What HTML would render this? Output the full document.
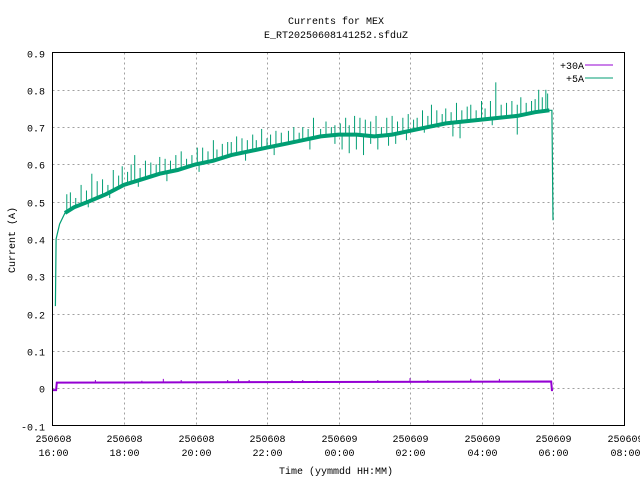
<!DOCTYPE html>
<html><head><meta charset="utf-8"><style>
body{margin:0;background:#fff}
svg text{font-family:"Liberation Mono",monospace;font-size:10px;fill:#000}
</style></head><body>
<svg id="chart" width="640" height="480" viewBox="0 0 640 480" xmlns="http://www.w3.org/2000/svg">
<rect width="640" height="480" fill="#fff"/>
<text x="336" y="24" text-anchor="middle">Currents for MEX</text>
<text x="336" y="38" text-anchor="middle">E_RT20250608141252.sfduZ</text>
<text transform="translate(15,240) rotate(-90)" text-anchor="middle">Current (A)</text>
<text x="336" y="474" text-anchor="middle">Time (yymmdd HH:MM)</text>
<g id="grid"></g>
<g id="series"></g>
<rect x="52.5" y="52.5" width="572" height="373" fill="none" stroke="#000" stroke-width="1"/>
<g>
<text x="584" y="69" text-anchor="end">+30A</text>
<line x1="585" y1="65" x2="613" y2="65" stroke="#9400d3" stroke-width="1"/>
<text x="584" y="82" text-anchor="end">+5A</text>
<line x1="585" y1="78" x2="613" y2="78" stroke="#009e73" stroke-width="1"/>
</g>
</svg>
<script>
const yTicks=[-0.1,0,0.1,0.2,0.3,0.4,0.5,0.6,0.7,0.8,0.9];
const yTickLabels=["-0.1","0","0.1","0.2","0.3","0.4","0.5","0.6","0.7","0.8","0.9"];
const xTicks=[0,2,4,6,8,10,12,14,16];
const xDateLabels=["250608","250608","250608","250608","250609","250609","250609","250609","250609"];
const xTimeLabels=["16:00","18:00","20:00","22:00","00:00","02:00","04:00","06:00","08:00"];
// hours since 250608 16:00
const greenT=[0.08,0.1,0.2,0.35,0.6,1,1.5,2,2.5,3,3.5,4,4.5,5,5.5,6,6.5,7,7.5,8,8.5,9,9.5,10,10.5,11,11.5,12,12.5,13,13.5,13.9,13.97,14.0];
const greenV=[0.22,0.40,0.44,0.47,0.485,0.50,0.52,0.545,0.56,0.575,0.585,0.60,0.61,0.625,0.635,0.645,0.655,0.665,0.675,0.68,0.68,0.675,0.68,0.69,0.70,0.71,0.715,0.72,0.725,0.73,0.74,0.745,0.745,0.45];
const spikeT=[0.4,0.5,0.65,0.8,0.95,1.1,1.25,1.4,1.55,1.7,1.85,1.95,2.1,2.2,2.3,2.45,2.6,2.75,2.9,3.0,3.15,3.3,3.45,3.6,3.75,3.9,4.05,4.2,4.35,4.5,4.6,4.75,4.9,5.0,5.15,5.3,5.45,5.6,5.7,5.85,6.0,6.1,6.25,6.4,6.6,6.75,6.9,7.0,7.15,7.3,7.5,7.65,7.8,7.9,8.05,8.2,8.3,8.45,8.6,8.75,8.9,9.05,9.2,9.35,9.5,9.65,9.8,9.95,10.1,10.2,10.35,10.5,10.6,10.75,10.9,11.0,11.15,11.3,11.45,11.6,11.7,11.85,12.0,12.1,12.25,12.4,12.55,12.7,12.85,13.0,13.1,13.25,13.4,13.5,13.6,13.7,13.8,13.85];
const spikeV=[0.52,0.525,0.51,0.545,0.53,0.575,0.555,0.56,0.545,0.585,0.57,0.595,0.58,0.6,0.625,0.59,0.61,0.605,0.6,0.62,0.615,0.61,0.625,0.635,0.615,0.625,0.645,0.645,0.635,0.665,0.64,0.655,0.66,0.66,0.675,0.67,0.665,0.68,0.665,0.695,0.67,0.68,0.69,0.685,0.69,0.7,0.685,0.70,0.695,0.725,0.695,0.715,0.70,0.705,0.71,0.725,0.705,0.73,0.725,0.72,0.715,0.73,0.70,0.725,0.73,0.715,0.725,0.735,0.72,0.725,0.745,0.73,0.76,0.745,0.735,0.75,0.74,0.765,0.745,0.755,0.76,0.745,0.77,0.75,0.77,0.82,0.76,0.765,0.77,0.76,0.78,0.765,0.77,0.775,0.80,0.78,0.80,0.79];
const dipT=[1.0,1.6,2.4,3.2,4.1,5.4,6.2,7.2,7.9,8.1,8.3,8.5,8.7,8.9,9.1,9.4,9.6,9.9,10.4,11.2,11.4,12.3,13.0];
const dipV=[0.485,0.51,0.54,0.555,0.58,0.61,0.625,0.64,0.655,0.64,0.63,0.64,0.625,0.655,0.64,0.65,0.655,0.665,0.685,0.675,0.67,0.705,0.68];
const purpleT=[0,0.1,0.12,13.95,13.97,14.0];
const purpleV=[-0.005,-0.005,0.015,0.018,-0.005,-0.005];
const purpleSpikeT=[1.2,2.5,3.1,3.6,4.9,5.2,5.5,6.7,7.0,7.4,9.1,10.0,10.5,11.7,12.5];
const purpleSpikeV=[0.022,0.02,0.025,0.022,0.022,0.024,0.022,0.022,0.022,0.02,0.022,0.027,0.022,0.025,0.025];

const X0=52.5,X1=624.5,Y0=425.5,Y1=52.5;
const xs=t=>X0+(t/16)*(X1-X0);
const ys=v=>Y0-((v+0.1)/1.0)*(Y0-Y1);
const NS="http://www.w3.org/2000/svg";
const svg=document.getElementById('chart');
const grid=document.getElementById('grid');
const ser=document.getElementById('series');
function mk(tag,attrs,parent){const e=document.createElementNS(NS,tag);for(const k in attrs)e.setAttribute(k,attrs[k]);parent.appendChild(e);return e;}
yTicks.forEach((v,i)=>{
  const y=Math.round(ys(v))+0.5;
  if(i>0&&i<yTicks.length-1){const g=mk('line',{x1:X0,x2:X1,y1:y,y2:y,stroke:'#a0a0a0','stroke-dasharray':'2,3'},grid);
  
  }
  const t=mk('text',{x:45,y:y+4,'text-anchor':'end'},svg);
  
  
  t.textContent=yTickLabels[i];
});
xTicks.forEach((h,i)=>{
  const x=Math.round(xs(h))+0.5;
  if(i>0&&i<xTicks.length-1){const g=mk('line',{x1:x,x2:x,y1:Y1,y2:Y0,stroke:'#a0a0a0','stroke-dasharray':'2,3'},grid);
  
  }
  const a=mk('text',{x:x,y:442,'text-anchor':'middle'},svg);
  
  
  a.textContent=xDateLabels[i];
  const b=mk('text',{x:x,y:456,'text-anchor':'middle'},svg);
  
  
  b.textContent=xTimeLabels[i];
});
function interp(T,V,t){for(let i=1;i<T.length;i++){if(t<=T[i]){const f=(t-T[i-1])/(T[i]-T[i-1]);return V[i-1]+f*(V[i]-V[i-1]);}}return V[V.length-1];}
// purple
let pd=purpleT.map((t,i)=>(i?'L':'M')+xs(t).toFixed(1)+','+ys(purpleV[i]).toFixed(1)).join('');
const pl=mk('path',{d:pd,fill:'none',stroke:'#9400d3','stroke-width':2},ser);


purpleSpikeT.forEach((t,i)=>{const l=mk('line',{x1:xs(t),x2:xs(t),y1:ys(0.015),y2:ys(purpleSpikeV[i]),stroke:'#9400d3','stroke-width':1},ser);

});
// green
let gd=greenT.map((t,i)=>(i?'L':'M')+xs(t).toFixed(1)+','+ys(greenV[i]).toFixed(1)).join('');
const gl=mk('path',{d:gd,fill:'none',stroke:'#009e73','stroke-width':1.2},ser);


const gb=mk('path',{d:greenT.slice(3,32).map((t,i)=>(i?'L':'M')+xs(t).toFixed(1)+','+ys(greenV[i+3]).toFixed(1)).join(''),fill:'none',stroke:'#009e73','stroke-width':4},ser);


spikeT.forEach((t,i)=>{const b=interp(greenT,greenV,t);const l=mk('line',{x1:xs(t),x2:xs(t),y1:ys(b),y2:ys(spikeV[i]),stroke:'#009e73','stroke-width':1},ser);

});
dipT.forEach((t,i)=>{const b=interp(greenT,greenV,t);const l=mk('line',{x1:xs(t),x2:xs(t),y1:ys(b),y2:ys(dipV[i]),stroke:'#009e73','stroke-width':1},ser);

});
</script>
</body></html>
